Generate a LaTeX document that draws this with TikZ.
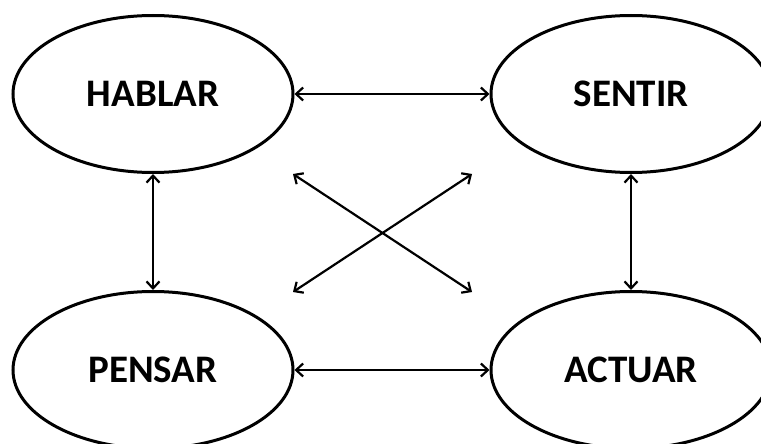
\documentclass[tikz,border=0pt]{standalone}
\usepackage{fontspec}
\setmainfont{Carlito}
\usetikzlibrary{shapes.geometric,arrows.meta}
\begin{document}
\begin{tikzpicture}[x=1pt,y=-1pt,
  bubble/.style={draw,ellipse,line width=3pt,minimum width=280pt,minimum height=157pt,inner sep=0pt,
    font=\fontsize{39}{42}\selectfont\bfseries},
  link/.style={line width=2.2pt,{Straight Barb[length=7pt,width=13pt,line width=2.2pt]}-{Straight Barb[length=7pt,width=13pt,line width=2.2pt]}}]
\useasboundingbox[fill=white] (0,0) rectangle (761,444);
\node[bubble] (H) at (153,94) {HABLAR};
\node[bubble] (S) at (631,94) {SENTIR};
\node[bubble] (P) at (153,370) {PENSAR};
\node[bubble] (A) at (631,370) {ACTUAR};
\coordinate (d1) at (293,174);
\coordinate (d2) at (472,292);
\coordinate (d3) at (472,174);
\coordinate (d4) at (293,292);
\draw[link] (H.east) -- (S.west);
\draw[link] (P.east) -- (A.west);
\draw[link] (H.south) -- (P.north);
\draw[link] (S.south) -- (A.north);
\draw[link] (d1) -- (d2);
\draw[link] (d3) -- (d4);
\end{tikzpicture}
\end{document}
